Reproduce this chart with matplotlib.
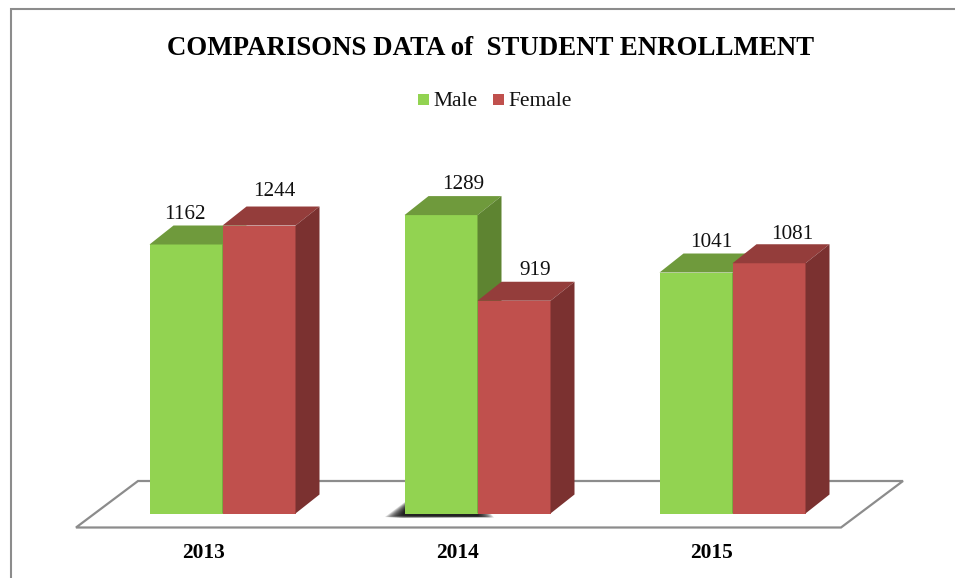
import matplotlib
matplotlib.use("Agg")
import matplotlib.pyplot as plt
from matplotlib.patches import Polygon, Rectangle

years = ["2013", "2014", "2015"]
male = [1162, 1289, 1041]
female = [1244, 919, 1081]

W, H = 955, 578
PX_PER_UNIT = 0.2315  # bar height in pixels per student
BASE_Y = 513.5
GROUP_X = 222.5
GROUP_STEP = 255.0
BAR_W = 73 / GROUP_STEP
DX = 24 / GROUP_STEP  # depth of the fake 3D, in data units
DY = 19 / PX_PER_UNIT

# label nudges in pixels from the bar's top left corner, these are not regular in the original
male_nudge = [(35, -30), (59, -31), (52, -30)]
female_nudge = [(52, -34), (58, -30), (60, -29)]

plt.rcParams["font.family"] = ["Liberation Serif", "DejaVu Serif"]

fig = plt.figure(figsize=(W / 100, H / 100), dpi=100)
ax = fig.add_axes([0, 0, 1, 1])
ax.set_xlim(-GROUP_X / GROUP_STEP, (W - GROUP_X) / GROUP_STEP)
ax.set_ylim(-(H - BASE_Y) / PX_PER_UNIT, BASE_Y / PX_PER_UNIT)
ax.axis("off")


def px(x, y):
    # figure pixel (y down) to data coords, for decoration only
    return (x - GROUP_X) / GROUP_STEP, (BASE_Y - y) / PX_PER_UNIT


GREY = "#8c8c8c"

# frame, only top and left show in the crop
ax.plot(*zip(px(955, 9), px(10.5, 9), px(10.5, 578)), color=GREY, lw=1.5, solid_joinstyle="miter")

# floor
floor = [px(76, 527.5), px(138, 481), px(903, 481), px(841, 527.5)]
ax.add_patch(Polygon(floor, closed=True, fc="white", ec=GREY, lw=1.6, zorder=1))

# soft shadow under the 2014 male bar, stacked faint layers
for k in range(12):
    shadow = [px(385 + 1.6 * k, 517 - 0.15 * k), px(405, 502 + 0.7 * k), px(480, 502 + 0.7 * k),
              px(494 - 1.5 * k, 517.5 - 0.1 * k), px(400 + k, 518 - 0.2 * k)]
    ax.add_patch(Polygon(shadow, closed=True, fc="black", ec="none", alpha=0.15, zorder=1.5))


def draw_bar(x0, val, front, top, side, z):
    x1 = x0 + BAR_W
    ax.bar(x0, val, width=BAR_W, align="edge", color=front, lw=0, zorder=z)
    ax.add_patch(Polygon([(x0, val), (x1, val), (x1 + DX, val + DY), (x0 + DX, val + DY)],
                         closed=True, fc=top, ec="none", zorder=z))
    ax.add_patch(Polygon([(x1, 0), (x1 + DX, DY), (x1 + DX, val + DY), (x1, val)],
                         closed=True, fc=side, ec="none", zorder=z))


def value_label(x0, val, nudge):
    ax.text(x0 + nudge[0] / GROUP_STEP, val - nudge[1] / PX_PER_UNIT, str(val), ha="center", va="center",
            fontsize=15.2, color="#111111", zorder=6)


for i, year in enumerate(years):
    # male first so the female bar sits over its side face
    draw_bar(i - BAR_W, male[i], "#92d351", "#6f9a3c", "#5e8431", 2 + i)
    draw_bar(i, female[i], "#c0504d", "#943d3b", "#7b3130", 2.5 + i)
    value_label(i - BAR_W, male[i], male_nudge[i])
    value_label(i, female[i], female_nudge[i])
    ax.text(i - (19.5 + i * 0.7) / GROUP_STEP, px(0, 553)[1], year, ha="center", va="center",
            fontsize=15.4, fontweight="bold", color="black")

ax.text(*px(490.5, 48.5), "COMPARISONS DATA of  STUDENT ENROLLMENT", ha="center", va="center",
        fontsize=19.4, fontweight="bold", color="black")

# legend
for x, y, label, color in [(418, 94, "Male", "#92d351"), (493, 94, "Female", "#c0504d")]:
    l, b = px(x, y + 11)
    r, t = px(x + 11, y)
    ax.add_patch(Rectangle((l, b), r - l, t - b, fc=color, ec="none"))
    ax.text(*px(x + 15, y + 7.5), label, ha="left", va="center", fontsize=15.5, color="#111111")

fig.savefig("out.png", dpi=100, facecolor="white")
